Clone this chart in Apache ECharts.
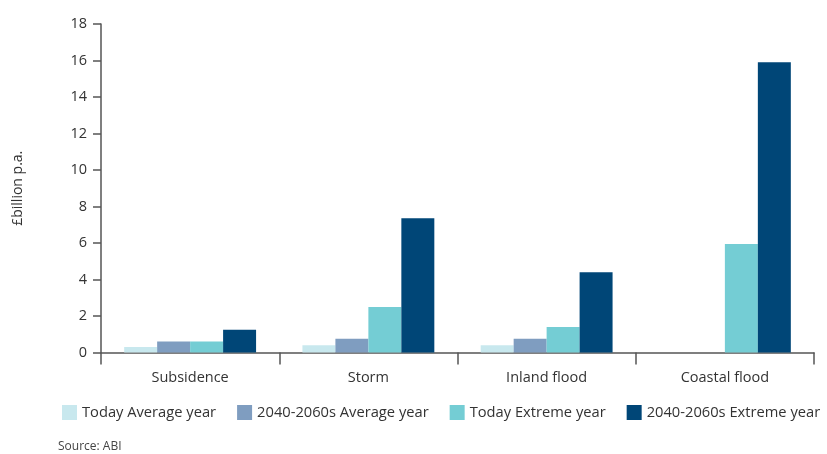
<!DOCTYPE html>
<html>
<head>
<meta charset="utf-8">
<script src="https://cdn.jsdelivr.net/npm/echarts@6/dist/echarts.min.js"></script>
<style>
  html, body { margin: 0; padding: 0; background: #fff; }
  #chart { width: 827px; height: 454px; }
</style>
</head>
<body>
<div id="chart"></div>
<script>
// categories and series
var categories = ['Subsidence', 'Storm', 'Inland flood', 'Coastal flood'];
var todayAvg = [0.3, 0.4, 0.4, 0];
var futureAvg = [0.6, 0.75, 0.75, 0];
var todayExt = [0.6, 2.5, 1.4, 5.95];
var futureExt = [1.25, 7.35, 4.4, 15.9];
var seriesNames = ['Today Average year', '2040-2060s Average year', 'Today Extreme year', '2040-2060s Extreme year'];
var colors = ['#c8e8ee', '#7f9dc0', '#74cdd4', '#004677'];

var chart = echarts.init(document.getElementById('chart'));
var font = '"Open Sans", "Noto Sans", sans-serif';

function bar(name, data, i) {
  return {
    name: name,
    type: 'bar',
    data: data,
    barGap: '0%',
    barCategoryGap: '26%',
    itemStyle: { color: colors[i] }
  };
}

var option = {
  animation: false,
  textStyle: { fontFamily: font, color: '#333' },
  color: colors,
  grid: { left: 101, right: 13, top: 24, bottom: 101.5 },
  legend: {
    left: 62,
    top: 405,
    width: 765,
    padding: 0,
    itemWidth: 15,
    itemHeight: 15,
    itemGap: 21,
    icon: 'rect',
    textStyle: { fontSize: 14.7, color: '#333', fontFamily: font },
    data: seriesNames
  },
  graphic: [{
    type: 'text',
    left: 58,
    top: 441,
    style: { text: 'Source: ABI', fontSize: 12, fill: '#444', fontFamily: font }
  }],
  xAxis: {
    type: 'category',
    data: categories,
    axisLine: { lineStyle: { color: '#555', width: 1.5 } },
    axisTick: { show: true, length: 12, lineStyle: { color: '#555', width: 1.5 } },
    axisLabel: { fontSize: 14.5, color: '#333', margin: 18 }
  },
  yAxis: {
    type: 'value',
    min: 0,
    max: 18,
    interval: 2,
    name: '£billion p.a.',
    nameLocation: 'middle',
    nameRotate: 90,
    nameGap: 76,
    nameTextStyle: { fontSize: 14, color: '#333' },
    axisLine: { show: true, lineStyle: { color: '#555', width: 1.5 } },
    axisTick: { show: true, length: 8, lineStyle: { color: '#555', width: 1.5 } },
    axisLabel: { fontSize: 14.5, color: '#333', margin: 14 },
    splitLine: { show: false }
  },
  series: [
    bar(seriesNames[0], todayAvg, 0),
    bar(seriesNames[1], futureAvg, 1),
    bar(seriesNames[2], todayExt, 2),
    bar(seriesNames[3], futureExt, 3)
  ]
};

chart.setOption(option);
</script>
</body>
</html>
